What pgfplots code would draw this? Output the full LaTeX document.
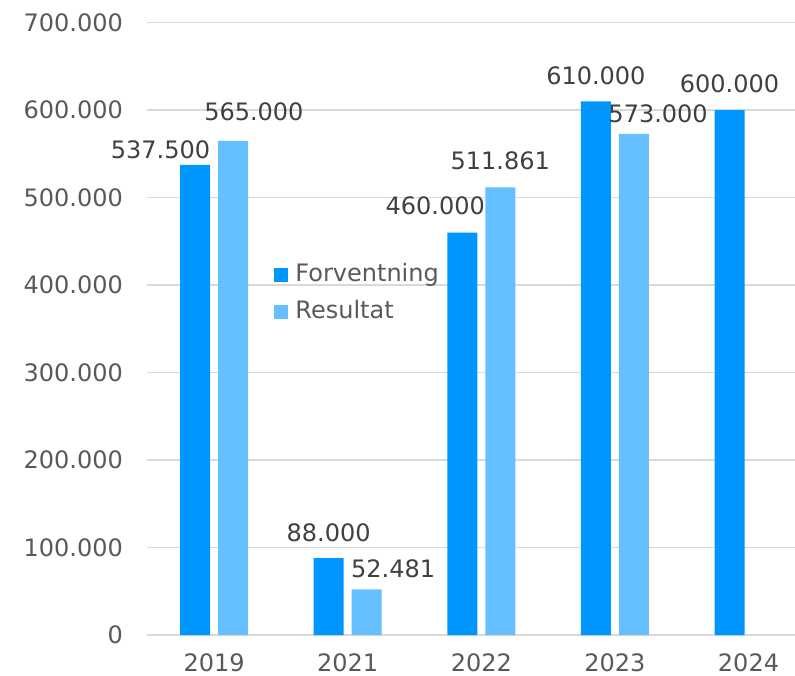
\documentclass[border=0pt]{standalone}
\usepackage{fontspec}
\setmainfont{DejaVu Sans}
\usepackage{pgfplots}
\pgfplotsset{compat=1.18}
\definecolor{forv}{RGB}{0,150,255}
\definecolor{resu}{RGB}{102,191,255}
\definecolor{tick}{RGB}{89,89,89}
\definecolor{lab}{RGB}{64,64,64}
\definecolor{grd}{RGB}{217,217,217}
\begin{document}
\begin{tikzpicture}
\useasboundingbox (-73.65pt,-19.9pt) rectangle (323.85pt,317.6pt);
\begin{axis}[
  scale only axis,
  width=334pt, height=306.25pt,
  xmin=-0.5, xmax=4.5,
  ymin=0, ymax=700000,
  ytick={0,100000,...,700000},
  xtick={0,1,2,3,4},
  xticklabels={2019,2021,2022,2023,2024},
  font=\fontsize{12}{14}\selectfont,
  /pgf/number format/assume math mode=true,
  /pgf/number format/.cd, fixed, 1000 sep={.}, /pgfplots/.cd,
  scaled y ticks=false,
  axis line style={draw=none},
  major tick length=0pt,
  ymajorgrids,
  grid style={grd, line width=0.75pt},
  tick label style={text=tick},
  yticklabel style={anchor=east, inner sep=0pt, xshift=-12pt},
  xticklabel style={anchor=north, inner sep=0pt, yshift=-9pt},
  ybar=4pt,
  bar width=15pt,
  point meta=explicit symbolic,
  nodes near coords,
  visualization depends on={\thisrow{dx} \as \dx},
  visualization depends on={\thisrow{dy} \as \dy},
  every node near coord/.style={anchor=center, inner sep=0pt, text=lab, xshift=\dx pt, yshift=\dy pt},
  legend cell align=left,
  legend image code/.code={\fill[#1] (0pt,-3pt) rectangle (6.65pt,3.65pt);},
  legend style={draw=none, fill=none, inner sep=0pt, at={(0.1897,0.557)}, anchor=west,
    row sep=6.5pt, column sep=0pt, text=tick,
    nodes={inner sep=0pt, text height=9pt, text depth=3pt}},
]
% dx: label offset from the category centre (pt); dy: above the bar top (pt)
\addplot[fill=forv, draw=none] table[x=x, y=y, meta=label] {
x y dx dy label
0 537500 -26.8 7.7 537.500
1 88000 -9.5 12.9 88.000
2 460000 -23 13.65 460.000
3 610000 -9.5 12.95 610.000
4 600000 -9.5 13.25 600.000
};
\addlegendentry{\hspace{3.85pt}Forventning}
\addplot[fill=resu, draw=none] table[x=x, y=y, meta=label] {
x y dx dy label
0 565000 19.9 14.3 565.000
1 52481 22.75 10.5 52.481
2 511861 9.5 13.15 511.861
3 573000 21.6 9.9 573.000
};
\addlegendentry{\hspace{3.85pt}Resultat}
\end{axis}
\end{tikzpicture}
\end{document}
